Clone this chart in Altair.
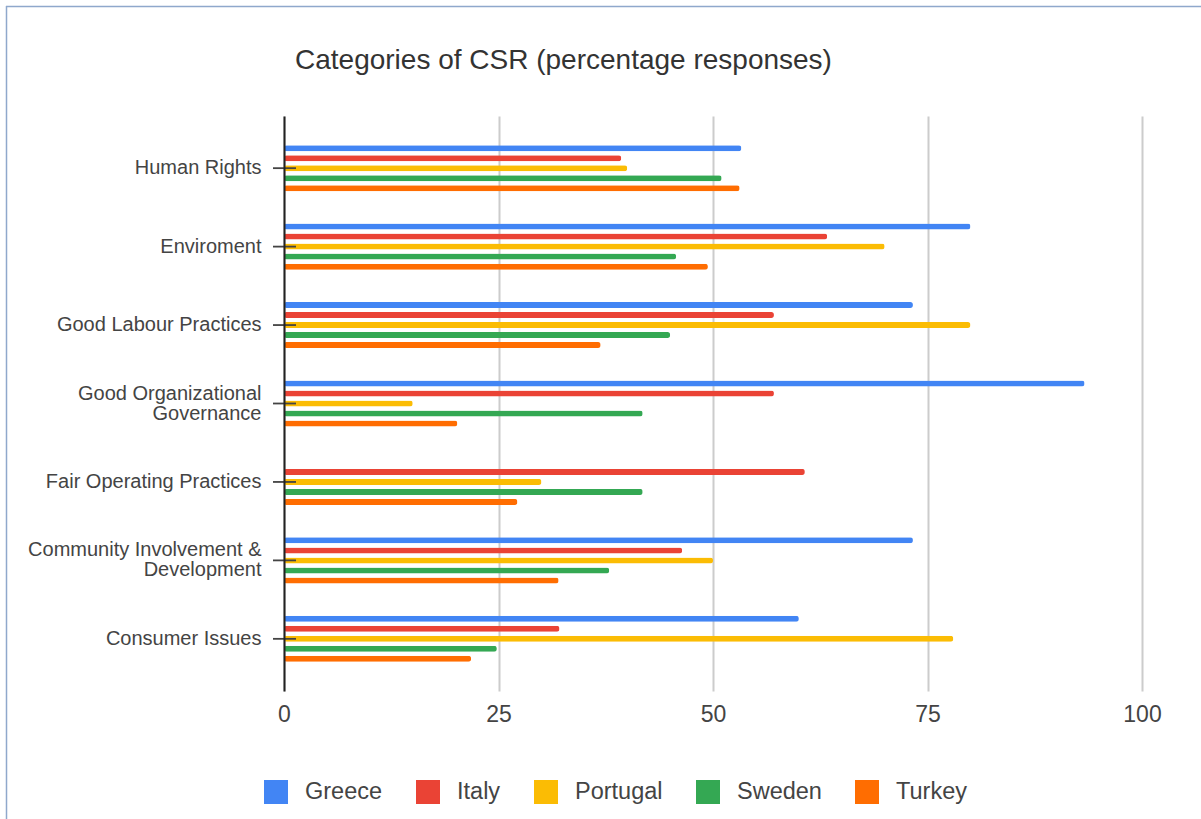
import altair as alt
import pandas as pd

# Categories of CSR and the share of responses per country (%)
categories = [
    "Human Rights",
    "Enviroment",
    "Good Labour Practices",
    "Good Organizational Governance",
    "Fair Operating Practices",
    "Community Involvement & Development",
    "Consumer Issues",
]
countries = ["Greece", "Italy", "Portugal", "Sweden", "Turkey"]
colors = ["#4285F4", "#EA4335", "#FBBC04", "#34A853", "#FF6D01"]

greece = [53.3, 80.0, 73.3, 93.3, None, 73.3, 60.0]
italy = [39.3, 63.3, 57.1, 57.1, 60.7, 46.4, 32.1]
portugal = [40.0, 70.0, 80.0, 15.0, 30.0, 50.0, 78.0]
sweden = [51.0, 45.7, 45.0, 41.8, 41.8, 37.9, 24.8]
turkey = [53.1, 49.4, 36.9, 20.2, 27.2, 32.0, 21.8]

x_ticks = [0, 25, 50, 75, 100]
chart_title = "Categories of CSR (percentage responses)"

series = dict(zip(countries, [greece, italy, portugal, sweden, turkey]))
rows = []
for country, vals in series.items():
    for cat, v in zip(categories, vals):
        if v is not None:
            rows.append({"category": cat, "country": country, "value": v})
df = pd.DataFrame(rows)
cat_df = pd.DataFrame({"category": categories})

FONT = "Liberation Sans"
TEXT = "#444444"

label_expr = (
    "datum.label == 'Good Organizational Governance' ? ['Good Organizational', 'Governance'] : "
    "datum.label == 'Community Involvement & Development' ? ['Community Involvement &', 'Development'] : "
    "datum.label"
)
# two-line labels are lifted so that the pair sits centred on the tick
label_offset = {"condition": {"test": "length(datum.label) > 25", "value": -10}, "value": 0}

y_scale = alt.Scale(domain=categories, paddingInner=0.362, paddingOuter=0.346)

bars = alt.Chart(df).mark_bar(cornerRadius=2.5).encode(
    x=alt.X(
        "value:Q",
        scale=alt.Scale(domain=[0, 100], nice=False),
        axis=alt.Axis(
            values=x_ticks, title=None, domain=False, ticks=False,
            grid=True, gridColor="#cccccc", gridWidth=2, labelFlush=False,
            labelFont=FONT, labelFontSize=23, labelColor=TEXT, labelPadding=12,
        ),
    ),
    y=alt.Y(
        "category:N",
        scale=y_scale,
        axis=alt.Axis(
            title=None, ticks=False, grid=False,
            domainColor="#222222", domainWidth=2,
            labelFont=FONT, labelFontSize=20, labelColor=TEXT,
            labelPadding=23, labelLimit=400, labelLineHeight=20,
            labelExpr=label_expr, labelOffset=label_offset, zindex=1,
        ),
    ),
    yOffset=alt.YOffset(
        "country:N",
        scale=alt.Scale(domain=countries, paddingInner=0.4, paddingOuter=0.2),
    ),
    color=alt.Color(
        "country:N",
        scale=alt.Scale(domain=countries, range=colors),
        legend=alt.Legend(
            orient="none", legendX=-20, legendY=664, direction="horizontal",
            title=None, symbolType="square", symbolSize=576, symbolStrokeWidth=0,
            labelFont=FONT, labelFontSize=23.5, labelColor=TEXT,
            labelOffset=17, columnPadding=33,
        ),
    ),
)

# category ticks crossing the zero line
ticks = alt.Chart(cat_df).mark_rule(color="#444444", strokeWidth=1.8).encode(
    y=alt.Y("category:N", scale=y_scale),
    x=alt.value(-11),
    x2=alt.value(12),
)

one = pd.DataFrame({"title": [chart_title]})

# chart heading
heading = alt.Chart(one).mark_text(
    align="left", baseline="alphabetic", font=FONT, fontSize=28, color="#333333"
).encode(text="title:N", x=alt.value(11), y=alt.value(-47))

# thin frame along the top and left edges
frame_left = alt.Chart(one).mark_rule(color="#8fa8cc", strokeWidth=1.5).encode(
    x=alt.value(-277.5), y=alt.value(-110), y2=alt.value(703)
)
frame_top = alt.Chart(one).mark_rule(color="#8fa8cc", strokeWidth=1.5).encode(
    y=alt.value(-109.5), x=alt.value(-278), x2=alt.value(917)
)

chart = (
    alt.layer(bars, ticks, heading, frame_left, frame_top)
    .properties(
        width=858,
        height=575,
        autosize=alt.AutoSizeParams(type="none"),
        padding={"left": 284, "top": 116, "right": 59, "bottom": 128},
        background="white",
    )
    .configure_view(stroke=None)
)

chart.save("out.html", embed_options={"renderer": "svg", "actions": False})
